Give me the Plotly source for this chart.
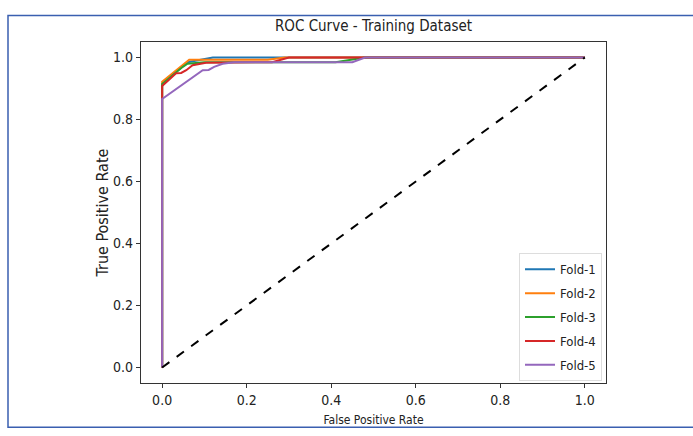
import plotly.graph_objects as go

title_text = "ROC Curve - Training Dataset"
x_label = "False Positive Rate"
y_label = "True Positive Rate"
fold_names = ["Fold-1", "Fold-2", "Fold-3", "Fold-4", "Fold-5"]
fold_colors = ["#1f77b4", "#ff7f0e", "#2ca02c", "#d62728", "#9467bd"]

fold1_fpr = [0.0, 0.0, 0.03, 0.06, 0.12, 1.0]
fold1_tpr = [0.0, 0.91, 0.95, 0.985, 1.0, 1.0]

fold2_fpr = [0.0, 0.0, 0.064, 0.25, 0.29, 1.0]
fold2_tpr = [0.0, 0.922, 0.993, 0.993, 1.0, 1.0]

fold3_fpr = [0.0, 0.0, 0.049, 0.06, 0.1, 0.41, 0.48, 1.0]
fold3_tpr = [0.0, 0.915, 0.97, 0.98, 0.985, 0.985, 1.0, 1.0]

fold4_fpr = [0.0, 0.0, 0.033, 0.045, 0.057, 0.072, 0.104, 0.26, 0.3, 1.0]
fold4_tpr = [0.0, 0.908, 0.949, 0.95, 0.959, 0.975, 0.983, 0.985, 1.0, 1.0]

fold5_fpr = [0.0, 0.0, 0.096, 0.11, 0.123, 0.143, 0.17, 0.45, 0.48, 1.0]
fold5_tpr = [0.0, 0.866, 0.959, 0.96, 0.97, 0.98, 0.985, 0.985, 1.0, 1.0]

chance_x = [0.0, 1.0]
chance_y = [0.0, 1.0]

tick_vals = [0.0, 0.2, 0.4, 0.6, 0.8, 1.0]
tick_text = ["0.0", "0.2", "0.4", "0.6", "0.8", "1.0"]

fprs = [fold1_fpr, fold2_fpr, fold3_fpr, fold4_fpr, fold5_fpr]
tprs = [fold1_tpr, fold2_tpr, fold3_tpr, fold4_tpr, fold5_tpr]

FONT = "DejaVu Sans Condensed, Liberation Sans Narrow, Roboto, Liberation Sans, sans-serif"

fig = go.Figure()
for name, color, fx, ty in zip(fold_names, fold_colors, fprs, tprs):
    fig.add_trace(go.Scatter(x=fx, y=ty, mode="lines", name=name,
                             legendgroup=name,
                             line=dict(color=color, width=2)))
fig.add_trace(go.Scatter(x=chance_x, y=chance_y, mode="lines", showlegend=False,
                         line=dict(color="black", width=2, dash="dash")))

W, H = 693, 436
L, R, T, B = 141, 87, 42, 47
pw, ph = W - L - R, H - T - B

def px(x):
    return (x - L) / pw

def py(y):
    return (H - B - y) / ph

axis_common = dict(range=[-0.05, 1.05], tickvals=tick_vals, ticktext=tick_text,
                   showgrid=False, zeroline=False, showline=True, mirror=True,
                   linecolor="#333", linewidth=1.2, ticks="outside", ticklen=4,
                   tickcolor="#333", tickfont=dict(size=14))

fig.update_layout(
    width=W, height=H,
    margin=dict(l=L, r=R, t=T, b=B),
    paper_bgcolor="white", plot_bgcolor="white",
    font=dict(family=FONT, size=12, color="#222"),
    title=dict(text=title_text, xref="paper", x=0.5, xanchor="center",
               yref="container", y=1 - 26 / H, yanchor="middle",
               font=dict(size=15, color="#222")),
    xaxis=dict(**axis_common,
               title=dict(text=x_label, font=dict(size=12), standoff=8)),
    yaxis=dict(**axis_common,
               title=dict(text=y_label, font=dict(size=16), standoff=0)),
    legend=dict(x=px(602), xanchor="right", y=py(257), yanchor="top",
                bgcolor="rgba(255,255,255,0.9)", bordercolor="#ddd", borderwidth=1,
                font=dict(size=13), tracegroupgap=4, itemwidth=30),
    shapes=[dict(type="rect", xref="paper", yref="paper",
                 x0=px(8), x1=px(740), y0=py(434), y1=py(15),
                 line=dict(color="#3a5fb0", width=1.5), fillcolor="rgba(0,0,0,0)",
                 layer="below")],
)

fig.write_html("out.html", config={"displayModeBar": False},
               post_script="document.body.style.margin='0';")
